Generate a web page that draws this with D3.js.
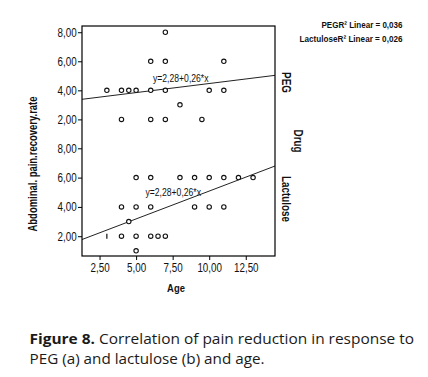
<!DOCTYPE html>
<html>
<head>
<meta charset="utf-8">
<script src="https://cdn.jsdelivr.net/npm/d3@7"></script>
<style>
  body { margin: 0; background: #fff; }
  svg { display: block; }
  .narrow { font-family: "Liberation Sans", Arial, sans-serif; fill: #111; }
  .axis text { font-family: "Liberation Sans", Arial, sans-serif; font-size: 12px; fill: #111; }
  .axis path, .axis line { stroke: #000; }
</style>
</head>
<body>
<div id="chart"></div>
<script>
// Panels (drug groups)
var drugs = ['PEG', 'Lactulose']

// PEG: age, recovery rate
var pegAge  = [3, 4, 4.5, 5, 6, 7, 6, 7, 7, 4, 6, 7, 8, 9.5, 10, 11, 11]
var pegRate = [4, 4, 4, 4, 4, 4, 6, 6, 8, 2, 2, 2, 3, 2, 4, 4, 6]

// Lactulose: age, recovery rate
var lacAge  = [5, 6, 8, 9, 10, 11, 12, 13, 4, 5, 6, 9, 10, 11, 4.5, 4, 5, 6, 6.5, 7, 5]
var lacRate = [6, 6, 6, 6, 6, 6, 6, 6, 4, 4, 4, 4, 4, 4, 3, 2, 2, 2, 2, 2, 1]

// odd tick-shaped marker in the lactulose panel
var lacTickAge = [3]
var lacTickRate = [2]

// fit lines as drawn (intercept, slope) and the printed labels
var fitIntercept = [3.22, 1.28]
var fitSlope = [0.125, 0.38]
var fitLabel = ['y=2,28+0,26*x', 'y=2,28+0,26*x']
var r2Legend = ['PEGR\u00b2 Linear = 0,036', 'LactuloseR\u00b2 Linear = 0,026']

var xTicks = [2.5, 5, 7.5, 10, 12.5]
var yTicks = [2, 4, 6, 8]

var W = 428, H = 377
var frame = {left: 82, right: 275, top: 26, bottom: 256}
var panelTop = [26, 142], panelBottom = [139, 256]
var squeeze = 'scale(0.82,1)'   // fake a narrow font

var svg = d3.select('#chart').append('svg')
    .attr('width', W).attr('height', H)

var fmt = d => d3.format('.2f')(d).replace('.', ',')

// Making Scales
var xScale = d3.scaleLinear().domain([1.3, 14.5]).range([frame.left, frame.right])
var yScales = drugs.map((d, i) => d3.scaleLinear().domain([0.65, 8.43]).range([panelBottom[i], panelTop[i]]))

// Axes
svg.append('g')
    .attr('class', 'x axis')
    .attr('transform', 'translate(0,' + frame.bottom + ')')
    .call(d3.axisBottom(xScale).tickValues(xTicks).tickFormat(fmt).tickSize(4).tickPadding(3).tickSizeOuter(0))
    .call(g => g.select('.domain').remove())
    .call(g => g.selectAll('text').attr('transform', squeeze))

yScales.forEach(ys => {
  svg.append('g')
      .attr('class', 'y axis')
      .attr('transform', 'translate(' + frame.left + ',0)')
      .call(d3.axisLeft(ys).tickValues(yTicks).tickFormat(fmt).tickSize(4).tickPadding(1).tickSizeOuter(0))
      .call(g => g.select('.domain').remove())
      .call(g => g.selectAll('text').attr('x', -6.5).attr('transform', squeeze))
})

svg.append('clipPath').attr('id', 'clip')
  .append('rect')
    .attr('x', frame.left).attr('y', frame.top)
    .attr('width', frame.right - frame.left).attr('height', frame.bottom - frame.top)

// Fit lines
var fitLine = svg.append('g').attr('clip-path', 'url(#clip)')
drugs.forEach((d, i) => {
  var ys = yScales[i]
  var x0 = xScale.domain()[0], x1 = xScale.domain()[1]
  fitLine.append('line')
    .attr('x1', xScale(x0)).attr('y1', ys(fitIntercept[i] + fitSlope[i] * x0))
    .attr('x2', xScale(x1)).attr('y2', ys(fitIntercept[i] + fitSlope[i] * x1))
    .attr('stroke', '#222').attr('stroke-width', 1)
})

// Points
var series = [d3.zip(pegAge, pegRate), d3.zip(lacAge, lacRate)]
series.forEach((pts, i) => {
  svg.append('g').selectAll('circle')
    .data(pts)
    .enter().append('circle')
    .attr('cx', d => xScale(d[0]))
    .attr('cy', d => yScales[i](d[1]))
    .attr('r', 2.2)
    .attr('fill', '#fff')
    .attr('stroke', '#111')
    .attr('stroke-width', 1.1)
})

svg.append('g').selectAll('line')
  .data(d3.zip(lacTickAge, lacTickRate))
  .enter().append('line')
  .attr('x1', d => xScale(d[0])).attr('x2', d => xScale(d[0]))
  .attr('y1', d => yScales[1](d[1]) - 2.5).attr('y2', d => yScales[1](d[1]) + 2.5)
  .attr('stroke', '#111').attr('stroke-width', 1.2)

// Fit labels
var labelPos = [[153, 81.5], [145.5, 196]]
drugs.forEach((d, i) => {
  svg.append('text')
    .attr('class', 'narrow')
    .attr('transform', 'translate(' + labelPos[i][0] + ',' + labelPos[i][1] + ') ' + squeeze)
    .style('font-size', '10.5px')
    .text(fitLabel[i])
})

// Frame
svg.append('rect')
  .attr('x', frame.left).attr('y', frame.top)
  .attr('width', frame.right - frame.left).attr('height', frame.bottom - frame.top)
  .attr('fill', 'none').attr('stroke', '#000').attr('stroke-width', 1.2)

// Panel labels on the right
drugs.forEach((d, i) => {
  var cy = (panelTop[i] + panelBottom[i]) / 2
  svg.append('text')
    .attr('class', 'narrow')
    .attr('transform', 'translate(282,' + cy + ') rotate(90) ' + squeeze)
    .attr('text-anchor', 'middle')
    .style('font-size', '12px').style('font-weight', 'bold')
    .text(d)
})
svg.append('text')
  .attr('class', 'narrow')
  .attr('transform', 'translate(293.5,141) rotate(90) ' + squeeze)
  .attr('text-anchor', 'middle')
  .style('font-size', '12px').style('font-weight', 'bold')
  .text('Drug')

// Axis titles
svg.append('text')
  .attr('class', 'narrow')
  .attr('transform', 'translate(176,292) ' + squeeze)
  .attr('text-anchor', 'middle')
  .style('font-size', '11.5px').style('font-weight', 'bold')
  .text('Age')

svg.append('text')
  .attr('class', 'narrow')
  .attr('transform', 'translate(36.5,164) rotate(-90)')
  .attr('x', -67.5)
  .attr('textLength', 135).attr('lengthAdjust', 'spacingAndGlyphs')
  .style('font-size', '12.5px').style('font-weight', 'bold')
  .text('Abdominal. pain.recovery.rate')

// R² legend
var legendWidth = [81, 103]
r2Legend.forEach((t, i) => {
  svg.append('text')
    .attr('class', 'narrow')
    .attr('x', 402.5 - legendWidth[i]).attr('y', 28.3 + i * 14)
    .attr('textLength', legendWidth[i]).attr('lengthAdjust', 'spacingAndGlyphs')
    .style('font-size', '9.5px').style('font-weight', 'bold')
    .text(t)
})

// Caption
var cap = svg.append('text')
  .attr('x', 29.5).attr('y', 344)
  .attr('textLength', 384.5).attr('lengthAdjust', 'spacingAndGlyphs')
  .style('font-family', '"Open Sans", Lato, sans-serif')
  .style('font-size', '15px').style('fill', '#1a1a1a')
cap.append('tspan').style('font-weight', 'bold').text('Figure 8.')
cap.append('tspan').text(' Correlation of pain reduction in response to')

svg.append('text')
  .attr('x', 29.5).attr('y', 364)
  .attr('textLength', 235).attr('lengthAdjust', 'spacingAndGlyphs')
  .style('font-family', '"Open Sans", Lato, sans-serif')
  .style('font-size', '15px').style('fill', '#1a1a1a')
  .text('PEG (a) and lactulose (b) and age.')
</script>
</body>
</html>
